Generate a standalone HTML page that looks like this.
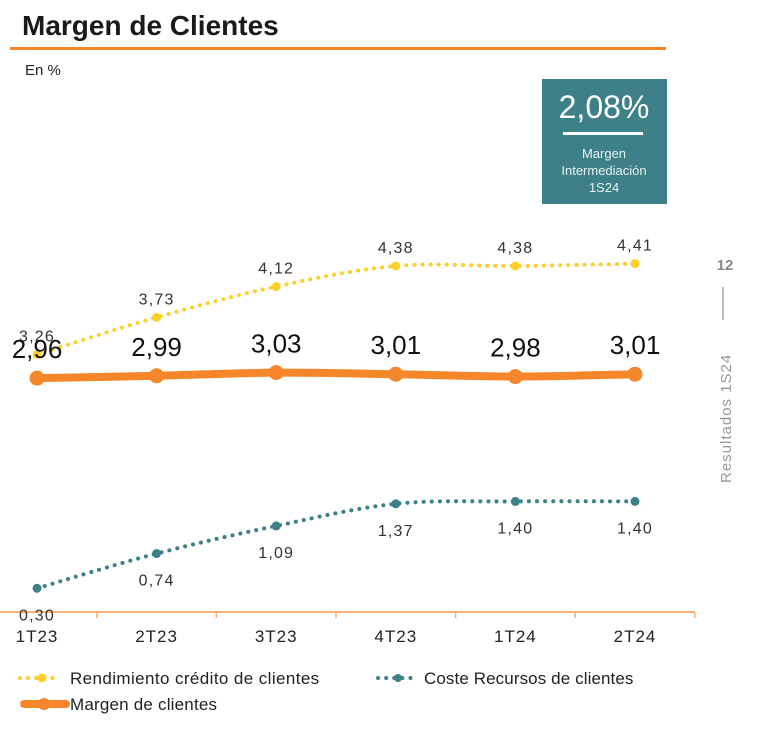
<!DOCTYPE html>
<html><head><meta charset="utf-8"><style>
body{margin:0;background:#fff;width:760px;height:742px;overflow:hidden;font-family:"Liberation Sans",sans-serif}
</style></head><body>
<svg width="760" height="742" xmlns="http://www.w3.org/2000/svg" font-family="Liberation Sans, sans-serif">
<text x="22" y="35" font-size="28" font-weight="bold" fill="#1a1a1a">Margen de Clientes</text>
<rect x="10" y="47" width="656" height="3" fill="#f5862a"/>
<text x="25" y="75" font-size="15" fill="#222">En %</text>
<g>
<rect x="542" y="79" width="125" height="125" fill="#3e8088"/>
<text x="604" y="118" font-size="32" fill="#fff" text-anchor="middle">2,08%</text>
<rect x="563" y="132" width="80" height="3" fill="#fff"/>
<text x="604" y="158" font-size="13" fill="#e6f0f1" text-anchor="middle">Margen</text>
<text x="604" y="175" font-size="13" fill="#e6f0f1" text-anchor="middle">Intermediación</text>
<text x="604" y="192" font-size="13" fill="#e6f0f1" text-anchor="middle">1S24</text>
</g>
<text x="725" y="270" font-size="15" font-weight="bold" fill="#888" text-anchor="middle">12</text>
<rect x="722" y="287" width="2" height="33" fill="#bbb"/>
<text transform="translate(731,483) rotate(-90)" font-size="15" letter-spacing="1" fill="#999">Resultados  1S24</text>
<g id="plot"></g>
<g>
<line x1="20" y1="678" x2="58" y2="678" stroke="#fcd02c" stroke-width="4" stroke-dasharray="0.1 8" stroke-linecap="round"/>
<circle cx="42" cy="678" r="4.5" fill="#fcd02c"/>
<text x="70" y="684" font-size="17" letter-spacing="0.4" fill="#222">Rendimiento crédito de clientes</text>
<line x1="378" y1="678" x2="414" y2="678" stroke="#3e8088" stroke-width="4" stroke-dasharray="0.1 8" stroke-linecap="round"/>
<circle cx="398" cy="678" r="4" fill="#3e8088"/>
<text x="424" y="684" font-size="17" letter-spacing="0.1" fill="#222">Coste Recursos de clientes</text>
<line x1="24" y1="704" x2="66" y2="704" stroke="#f5862a" stroke-width="8" stroke-linecap="round"/>
<circle cx="44" cy="704" r="6" fill="#f5862a"/>
<text x="70" y="710" font-size="17" letter-spacing="0.2" fill="#222">Margen de clientes</text>
</g>
</svg>
<script>
const categories=["1T23","2T23","3T23","4T23","1T24","2T24"];
const rendimiento=[3.26,3.73,4.12,4.38,4.38,4.41];
const coste=[0.30,0.74,1.09,1.37,1.40,1.40];
const margen=[2.96,2.99,3.03,3.01,2.98,3.01];
const NS="http://www.w3.org/2000/svg";
const g=document.getElementById('plot');
const x0=37,step=119.6;
function xs(i){return x0+i*step;}
function ys(v){return 612-79*v;}
function fmt(v){return v.toFixed(2).replace('.',',');}
function mk(t,a){const e=document.createElementNS(NS,t);for(const k in a)e.setAttribute(k,a[k]);g.appendChild(e);return e;}
function smooth(vals){const p=vals.map((v,i)=>[xs(i),ys(v)]);let d='M'+p[0][0]+','+p[0][1];
for(let i=0;i<p.length-1;i++){const a=p[Math.max(0,i-1)],b=p[i],c=p[i+1],e=p[Math.min(p.length-1,i+2)];
const c1=[b[0]+(c[0]-a[0])/6,b[1]+(c[1]-a[1])/6],c2=[c[0]-(e[0]-b[0])/6,c[1]-(e[1]-b[1])/6];
d+=' C'+c1+' '+c2+' '+c;}return d;}
const ax=mk('line',{x1:0,y1:612,x2:695,y2:612,stroke:'#f8b07a','stroke-width':2});


categories.forEach((c,i)=>{
 const tk=mk('line',{x1:xs(i)+step/2,y1:612,x2:xs(i)+step/2,y2:618,stroke:'#f8b07a','stroke-width':1.5});
 
 
 const t=mk('text',{x:xs(i),y:642,'font-size':17,'letter-spacing':1,fill:'#222','text-anchor':'middle'});t.textContent=c;
 
 
});
let p=mk('path',{d:smooth(rendimiento),fill:'none',stroke:'#fcd02c','stroke-width':4,'stroke-dasharray':'0.1 8','stroke-linecap':'round'});


rendimiento.forEach((v,i)=>{const c=mk('circle',{cx:xs(i),cy:ys(v),r:4.5,fill:'#fcd02c'});


const t=mk('text',{x:xs(i),y:ys(v)-13,'font-size':16,'letter-spacing':1.2,fill:'#333','text-anchor':'middle'});t.textContent=fmt(v);

});
p=mk('path',{d:smooth(coste),fill:'none',stroke:'#3e8088','stroke-width':4,'stroke-dasharray':'0.1 8','stroke-linecap':'round'});


coste.forEach((v,i)=>{const c=mk('circle',{cx:xs(i),cy:ys(v),r:4.5,fill:'#3e8088'});


const t=mk('text',{x:xs(i),y:ys(v)+32,'font-size':16,'letter-spacing':1.2,fill:'#333','text-anchor':'middle'});t.textContent=fmt(v);

});
p=mk('path',{d:smooth(margen),fill:'none',stroke:'#f5862a','stroke-width':8});


margen.forEach((v,i)=>{const c=mk('circle',{cx:xs(i),cy:ys(v),r:7.5,fill:'#f5862a'});


const t=mk('text',{x:xs(i),y:ys(v)-20,'font-size':26,fill:'#111','text-anchor':'middle'});t.textContent=fmt(v);

});
</script>
</body></html>
